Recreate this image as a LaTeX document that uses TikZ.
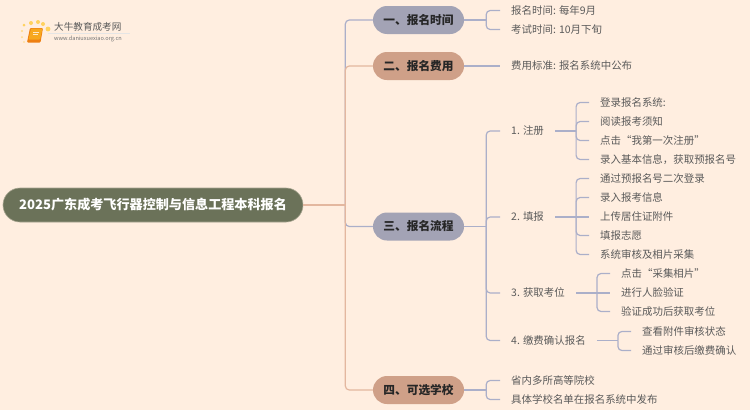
\documentclass[tikz,border=0pt]{standalone}
\usepackage{fontspec}
\setmainfont{Noto Sans CJK SC}
\usetikzlibrary{positioning}
\definecolor{paper}{HTML}{FFEEE0}
\definecolor{rootfill}{HTML}{6B7259}
\definecolor{bluefill}{HTML}{A3A3B5}
\definecolor{redfill}{HTML}{CFA088}
\definecolor{blueline}{HTML}{ABAFC9}
\definecolor{redline}{HTML}{E3B79F}
\definecolor{inktext}{HTML}{5A5A5A}
\definecolor{bookface}{HTML}{F7A81E}
\definecolor{bookedge}{HTML}{EE7F12}
\definecolor{sundot}{HTML}{FFD25E}
\tikzset{
  rootnode/.style={rounded corners=17pt,fill=rootfill,draw=rootfill!60!paper,line width=0.6pt,minimum width=300pt,minimum height=34pt,inner sep=0pt,text height=11pt,text depth=1.2pt,text=white,font=\fontsize{13.1}{15}\selectfont\bfseries},
  secnode/.style={rounded corners=14pt,minimum width=91pt,minimum height=28pt,inner sep=0pt,text height=10pt,text depth=1.2pt,text=black!85,font=\fontsize{11.7}{14}\selectfont\bfseries},
  leaf/.style={anchor=west,inner xsep=11pt,inner ysep=0pt,text height=9pt,text depth=1.2pt,text=inktext,font=\fontsize{10.45}{12}\selectfont},
  bluelink/.style={draw=blueline,line width=1.2pt,rounded corners=4pt},
  redlink/.style={draw=redline,line width=1.2pt,rounded corners=4pt}
}
\begin{document}
\begin{tikzpicture}[x=1pt,y=-1pt]
  \fill[paper] (0,0) rectangle (750,410);
  \useasboundingbox (0,0) rectangle (750,410);
  % logo
  \fill[sundot] (24,25) circle (1.5) (31,23) circle (2) (38,22) circle (2) (43,24) circle (2) (48,29) circle (2.4);
  \fill[sundot!70!paper] (22,31) circle (1.1) (22,37) circle (1) (24,42) circle (0.9);
  \fill[bookedge,rounded corners=1pt] (27,42.5) -- (30,28) -- (43,28) -- (40.5,42.5) -- cycle;
  \fill[bookface,rounded corners=0.8pt] (28.5,39.5) -- (31,28.6) -- (42.4,28.6) -- (40,39.5) -- cycle;
  \draw[white!75!bookface,line width=0.6pt] (33,32) -- (39,32) (32.5,34.5) -- (38,34.5);
  \node[text=black!65,font=\fontsize{9.6}{11}\selectfont,anchor=west,inner sep=0pt] (logotitle) at (54,27) {大牛教育成考网};
  \draw[black!10,line width=0.5pt] (48,33.5) -- (130,33.5);
  \node[text=black!55,font=\fontsize{5.6}{7}\selectfont,anchor=west,inner sep=0pt] (logourl) at (54,39) {www.daniuxuexiao.org.cn};
  % main nodes
  \node[rootnode] (root) at (153,205) {2025广东成考飞行器控制与信息工程本科报名};
  \node[secnode,fill=bluefill] (sec1) at (418.5,20) {一、报名时间};
  \node[secnode,fill=redfill] (sec2) at (418.5,66) {二、报名费用};
  \node[secnode,fill=bluefill] (sec3) at (418.5,226.5) {三、报名流程};
  \node[secnode,fill=redfill] (sec4) at (418.5,390) {四、可选学校};
  % first column
  \node[leaf] (time1) at (500,10.5) {报名时间: 每年9月};
  \node[leaf] (time2) at (500,29.5) {考试时间: 10月下旬};
  \node[leaf] (fee1) at (500,66) {费用标准: 报名系统中公布};
  \node[leaf] (step1) at (500,131) {1. 注册};
  \node[leaf] (step2) at (500,217) {2. 填报};
  \node[leaf] (step3) at (500,293) {3. 获取考位};
  \node[leaf] (step4) at (500,340.5) {4. 缴费确认报名};
  \node[leaf] (school1) at (500,380.5) {省内多所高等院校};
  \node[leaf] (school2) at (500,399.5) {具体学校名单在报名系统中发布};
  % second column
  \node[leaf] (reg1) at (589,102.5) {登录报名系统:};
  \node[leaf] (reg2) at (589,121.5) {阅读报考须知};
  \node[leaf] (reg3) at (589,140.5) {点击“我第一次注册”};
  \node[leaf] (reg4) at (589,159.5) {录入基本信息，获取预报名号};
  \node[leaf] (fill1) at (589,178.5) {通过预报名号二次登录};
  \node[leaf] (fill2) at (589,197.5) {录入报考信息};
  \node[leaf] (fill3) at (589,217) {上传居住证附件};
  \node[leaf] (fill4) at (589,235.5) {填报志愿};
  \node[leaf] (fill5) at (589,254.5) {系统审核及相片采集};
  \node[leaf] (seat1) at (610,273.5) {点击“采集相片”};
  \node[leaf] (seat2) at (610,293) {进行人脸验证};
  \node[leaf] (seat3) at (610,311.5) {验证成功后获取考位};
  \node[leaf] (pay1) at (631,331.5) {查看附件审核状态};
  \node[leaf] (pay2) at (631,350.5) {通过审核后缴费确认};
  % joints
  \coordinate (rootjoint) at ([xshift=42pt]root.east);
  \coordinate (sec1joint) at ([xshift=22pt]sec1.east);
  \coordinate (sec3joint) at ([xshift=22pt]sec3.east);
  \coordinate (sec4joint) at ([xshift=22pt]sec4.east);
  \coordinate (step1joint) at ([xshift=21pt]step1.east);
  \coordinate (step2joint) at ([xshift=21pt]step2.east);
  \coordinate (step3joint) at ([xshift=21pt]step3.east);
  \coordinate (step4joint) at ([xshift=21pt]step4.east);
  % connectors
  \draw[bluelink] (rootjoint) |- (sec1.west);
  \draw[bluelink] (rootjoint) |- (sec3.west);
  \draw[redlink] (rootjoint) |- (sec2.west);
  \draw[redlink] (rootjoint) |- (sec4.west);
  \draw[redlink] (root.east) -- (rootjoint);
  \draw[bluelink] (sec1.east) -- (sec1joint);
  \foreach \leafname in {time1,time2}
    \draw[bluelink] (sec1joint) |- (\leafname.west);
  \draw[bluelink] (sec2.east) -- (fee1.west);
  \draw[bluelink] (sec3.east) -- (sec3joint);
  \foreach \leafname in {step1,step2,step3,step4}
    \draw[bluelink] (sec3joint) |- (\leafname.west);
  \draw[bluelink] (sec4.east) -- (sec4joint);
  \foreach \leafname in {school1,school2}
    \draw[bluelink] (sec4joint) |- (\leafname.west);
  \draw[bluelink] (step1.east) -- (step1joint);
  \foreach \leafname in {reg1,reg2,reg3,reg4}
    \draw[bluelink] (step1joint) |- (\leafname.west);
  \draw[bluelink] (step2.east) -- (step2joint);
  \foreach \leafname in {fill1,fill2,fill4,fill5}
    \draw[bluelink] (step2joint) |- (\leafname.west);
  \draw[bluelink] (step2joint) -- (fill3.west);
  \draw[bluelink] (step3.east) -- (step3joint);
  \foreach \leafname in {seat1,seat3}
    \draw[bluelink] (step3joint) |- (\leafname.west);
  \draw[bluelink] (step3joint) -- (seat2.west);
  \draw[bluelink] (step4.east) -- (step4joint);
  \foreach \leafname in {pay1,pay2}
    \draw[bluelink] (step4joint) |- (\leafname.west);
\end{tikzpicture}
\end{document}
